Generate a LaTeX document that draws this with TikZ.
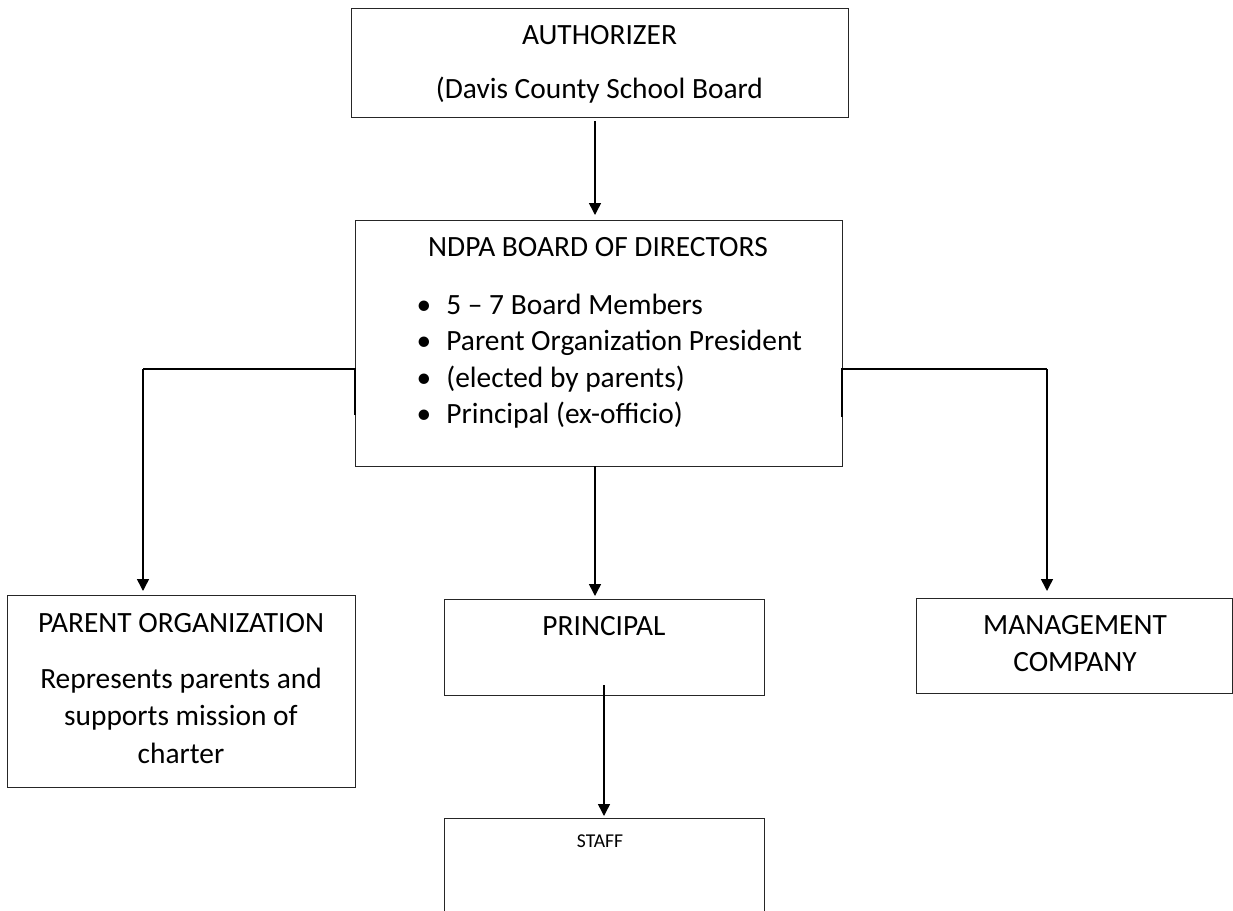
\documentclass[tikz,border=0pt]{standalone}
\usepackage{fontspec}
\setmainfont{Carlito}
\usetikzlibrary{arrows.meta}
\begin{document}
\begin{tikzpicture}[x=0.5pt,y=-0.5pt,
  box/.style={draw=black!85,line width=0.5pt,inner sep=0pt,outer sep=0pt,rectangle},
  txt/.style={inner sep=0pt,anchor=base,font=\fontsize{14.7}{17}\selectfont},
  small/.style={inner sep=0pt,anchor=base,font=\fontsize{9.8}{11}\selectfont},
  bul/.style={inner sep=0pt,anchor=base west,font=\fontsize{14.7}{17}\selectfont},
  arr/.style={line width=0.75pt,-{Triangle[width=6pt,length=6pt]}},
  conn/.style={line width=0.75pt}]
\useasboundingbox (0,0) rectangle (1233,911);
\clip (0,0) rectangle (1233,911);

% boxes
\node[box,minimum width=248.5pt,minimum height=54.5pt] (auth) at (599.5,62.5) {};
\node[box,minimum width=243.5pt,minimum height=123pt] (board) at (598.5,343) {};
\node[box,minimum width=174pt,minimum height=96pt] (parent) at (181,691) {};
\node[box,minimum width=160pt,minimum height=48pt] (prin) at (604,647) {};
\node[box,minimum width=158pt,minimum height=47.5pt] (mgmt) at (1074,645.5) {};
\node[box,minimum width=160pt,minimum height=48pt] (staff) at (604,866) {};

% texts
\node[txt] (authA) at (599.5,44) {AUTHORIZER};
\node[txt] (authB) at (599.5,98) {(Davis County School Board};
\node[txt] (boardT) at (598,256) {NDPA BOARD OF DIRECTORS};
\node[txt] (d1) at (424,314) {•};
\node[txt] (d2) at (424,350) {•};
\node[txt] (d3) at (424,387) {•};
\node[txt] (d4) at (424,423) {•};
\node[bul] (b1) at (446,314) {5 – 7 Board Members};
\node[bul] (b2) at (446,350) {Parent Organization President};
\node[bul] (b3) at (446,387) {(elected by parents)};
\node[bul] (b4) at (446,423) {Principal (ex-officio)};
\node[txt] (parA) at (181,632) {PARENT ORGANIZATION};
\node[txt] (parB) at (181,688) {Represents parents and};
\node[txt] (parC) at (181,725) {supports mission of};
\node[txt] (parD) at (181,763) {charter};
\node[txt] (prinT) at (604,635) {PRINCIPAL};
\node[txt] (mgA) at (1075,634) {MANAGEMENT};
\node[txt] (mgB) at (1075,671) {COMPANY};
\node[small] (staffT) at (600,847) {STAFF};

% connectors
\coordinate (a1) at (595,121);
\coordinate (a2) at (595,215);
\draw[arr] (a1) -- (a2);

\coordinate (L1) at (355,415);
\coordinate (L2) at (143,369);
\coordinate (L3) at (143,591);
\draw[conn] (L1) |- (L2);
\draw[arr] (L2) -- (L3);

\coordinate (R1) at (842,417);
\coordinate (R2) at (1047,369);
\coordinate (R3) at (1047,591);
\draw[conn] (R1) |- (R2);
\draw[arr] (R2) -- (R3);

\coordinate (m1) at (595,466);
\coordinate (m2) at (595,596);
\draw[arr] (m1) -- (m2);

\coordinate (s1) at (604,685);
\coordinate (s2) at (604,816);
\draw[arr] (s1) -- (s2);
\end{tikzpicture}
\end{document}
